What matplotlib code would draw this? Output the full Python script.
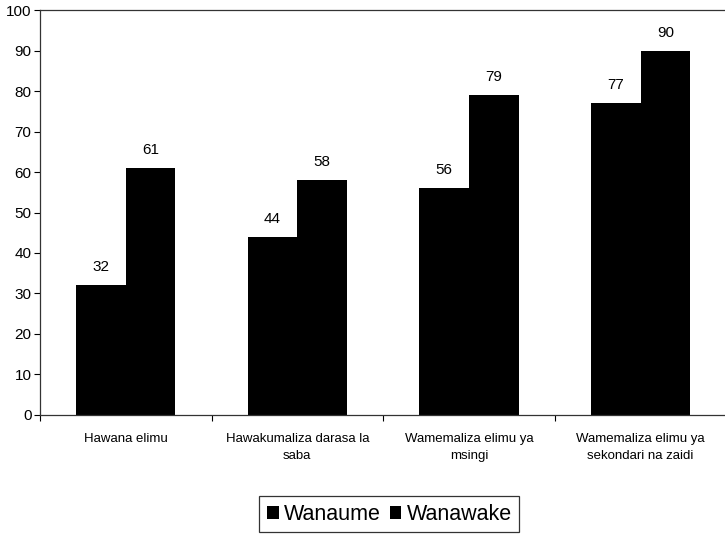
import numpy as np
import matplotlib.pyplot as plt

plt.rcParams['font.family'] = ['Liberation Sans', 'DejaVu Sans']

categories = ["Hawana elimu", "Hawakumaliza darasa la\nsaba",
              "Wamemaliza elimu ya\nmsingi", "Wamemaliza elimu ya\nsekondari na zaidi"]
wanaume = [32, 44, 56, 77]
wanawake = [61, 58, 79, 90]
series_names = ["Wanaume", "Wanawake"]

fig = plt.figure(figsize=(7.25, 5.36), dpi=100)
ax = fig.add_axes([0.055, 0.226, 0.947, 0.755])

x = np.arange(len(categories))
w = 0.29
b1 = ax.bar(x - w / 2, wanaume, w, color='black', label=series_names[0])
b2 = ax.bar(x + w / 2, wanawake, w, color='black', label=series_names[1])

for bars in (b1, b2):
    for rect in bars:
        h = rect.get_height()
        ax.annotate(f"{h:.0f}", (rect.get_x() + rect.get_width() / 2, h),
                    xytext=(0, 8), textcoords='offset points',
                    ha='center', va='bottom', fontsize=11)

ax.set_xlim(-0.5, len(categories) - 0.5)
ax.set_ylim(0, 100)
ax.set_yticks(range(0, 101, 10))
ax.tick_params(axis='y', labelsize=11, length=4, width=0.8, pad=2)

# category boundaries as ticks, labels at centers
ax.set_xticks(np.arange(len(categories) + 1) - 0.5)
ax.set_xticklabels([])
ax.set_xticks(x, minor=True)
ax.set_xticklabels(categories, minor=True, fontsize=9.5, linespacing=1.6)
ax.tick_params(axis='x', which='major', length=4, width=0.8)
ax.tick_params(axis='x', which='minor', length=0, pad=13)

for s in ['left', 'top', 'bottom']:
    ax.spines[s].set_linewidth(0.9)
    ax.spines[s].set_color('#333333')
ax.spines['right'].set_visible(False)

leg = fig.legend(handles=[b1, b2], labels=series_names, loc='upper center',
                 bbox_to_anchor=(0.537, 0.074), ncol=2, frameon=True,
                 fancybox=False, edgecolor='black', fontsize=15.5,
                 handlelength=0.55, handleheight=0.55, handletextpad=0.25,
                 columnspacing=0.4, borderpad=0.35, borderaxespad=0)
leg.get_frame().set_linewidth(0.9)

fig.savefig("out.png", dpi=100)
